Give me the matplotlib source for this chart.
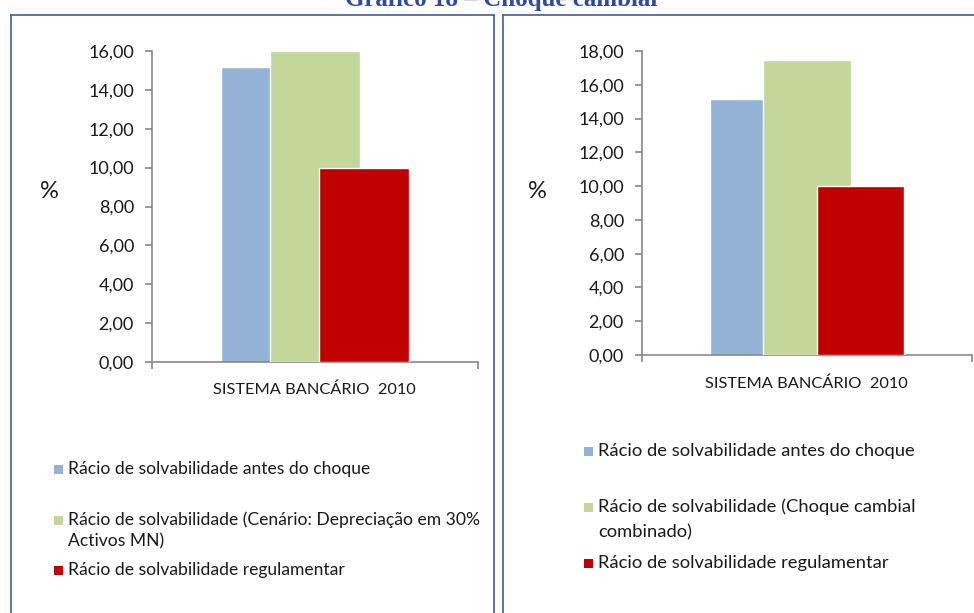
import matplotlib
matplotlib.use("Agg")
import matplotlib.pyplot as plt
from matplotlib.patches import Rectangle
from matplotlib.lines import Line2D
from matplotlib.ticker import FuncFormatter

# ---------------- data ----------------
title = "Gráfico 18 – Choque cambial"
category = "SISTEMA BANCÁRIO  2010"

left_series = ["Rácio de solvabilidade antes do choque",
               "Rácio de solvabilidade (Cenário: Depreciação em 30%\nActivos MN)",
               "Rácio de solvabilidade regulamentar"]
left_values = [15.2, 16.0, 10.0]
left_yticks = [0, 2, 4, 6, 8, 10, 12, 14, 16]

right_series = ["Rácio de solvabilidade antes do choque",
                "Rácio de solvabilidade (Choque cambial\ncombinado)",
                "Rácio de solvabilidade regulamentar"]
right_values = [15.15, 17.45, 10.0]
right_yticks = [0, 2, 4, 6, 8, 10, 12, 14, 16, 18]

colors = ["#95B3D7", "#C4D79B", "#C00000"]

# ---------------- figure ----------------
W, H = 974, 613
fig = plt.figure(figsize=(W / 100, H / 100), dpi=100)
FONT = "Lato"
plt.rcParams['font.family'] = [FONT, 'DejaVu Sans']
TXT = "#1a1a1a"

def fx(px):
    return px / W

def fy(py):
    return 1 - py / H

fmt = FuncFormatter(lambda v, p: f"{v:.2f}".replace(".", ","))

def panel(rect, values, yticks, offset, width):
    ax = fig.add_axes(rect)
    for i, (v, c) in enumerate(zip(values, colors)):
        ax.bar((i - 1) * offset, v, width=width, color=c, edgecolor="white",
               linewidth=1.0, zorder=2 + i)
    ax.set_xlim(-0.5, 0.5)
    ax.set_ylim(0, yticks[-1])
    ax.set_yticks(yticks)
    ax.yaxis.set_major_formatter(fmt)
    ax.set_xticks([-0.5, 0.5])
    ax.set_xticklabels(["", ""])
    for s in ["top", "right"]:
        ax.spines[s].set_visible(False)
    for s in ["left", "bottom"]:
        ax.spines[s].set_color("#878787")
        ax.spines[s].set_linewidth(1.2)
    ax.tick_params(axis="y", length=5, width=1.2, color="#878787",
                   labelsize=13, pad=8, labelcolor=TXT)
    ax.tick_params(axis="x", length=5, width=1.2, color="#878787")
    return ax

# left panel: axis x 152..478, y 362..51
axL = panel([fx(152), fy(362), (478 - 152) / W, (362 - 51) / H],
            left_values, left_yticks, 0.150, 0.276)
# right panel: axis x 642..972, y 355..51
axR = panel([fx(642), fy(355), (972 - 642) / W, (355 - 51) / H],
            right_values, right_yticks, 0.161, 0.264)

# category labels
fig.text(fx(314), fy(390), category, ha="center", va="center", fontsize=11.8, color=TXT)
fig.text(fx(806), fy(384), category, ha="center", va="center", fontsize=11.8, color=TXT)

# % labels
fig.text(fx(49), fy(191), "%", ha="center", va="center", fontsize=17, color=TXT)
fig.text(fx(537), fy(192), "%", ha="center", va="center", fontsize=17, color=TXT)

# legends (manual placement); each entry: list of line centre positions
def legend(sq_x, text_x, line_ys, labels, sq, fs):
    for ys, lab, c in zip(line_ys, labels, colors):
        fig.patches.append(Rectangle((fx(sq_x), fy(ys[0] + sq / 2)), sq / W, sq / H,
                                     transform=fig.transFigure, facecolor=c,
                                     edgecolor="none"))
        for y, part in zip(ys, lab.split("\n")):
            fig.text(fx(text_x), fy(y), part, ha="left", va="center",
                     fontsize=fs, color=TXT)

legend(54, 68, [[469], [520, 541], [570]], left_series, 9, 12.6)
legend(584, 598, [[451], [507, 532], [563]], right_series, 9, 13.2)

# title (partially clipped at top, as in the source page)
fig.text(fx(501), fy(6), title, ha="center", va="baseline", fontsize=18,
         fontweight="bold", family="Liberation Serif", color="#2F4A9B")

# box borders
bc = "#3F5BAA"
lines = [
    ([11, 11], [15, 613]), ([11, 494], [15, 15]), ([494, 494], [15, 613]),
    ([503, 503], [15, 613]), ([503, 974], [15, 15]),
]
for xs, ys in lines:
    fig.lines.append(Line2D([fx(v) for v in xs], [fy(v) for v in ys],
                            transform=fig.transFigure, color=bc, linewidth=1.2))

fig.savefig("out.png", dpi=100)
